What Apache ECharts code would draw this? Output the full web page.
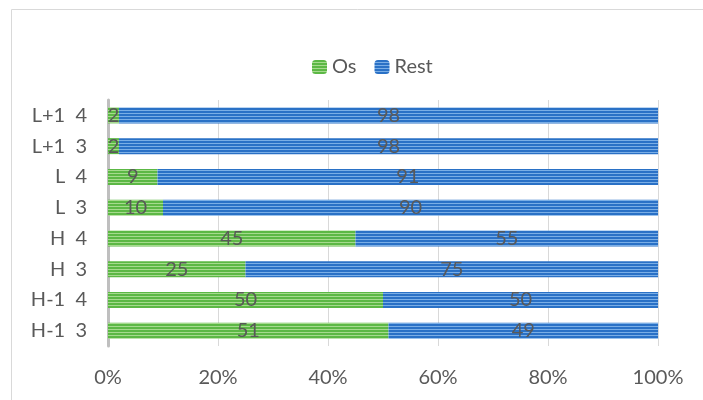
<!DOCTYPE html>
<html>
<head>
<meta charset="utf-8">
<script src="https://cdn.jsdelivr.net/npm/echarts@6/dist/echarts.min.js"></script>
<style>html,body{margin:0;padding:0;background:#fff;}#c{width:703px;height:400px;}</style>
</head>
<body>
<div id="c"></div>
<script>
const categories = ['H-1  3', 'H-1  4', 'H  3', 'H  4', 'L  3', 'L  4', 'L+1  3', 'L+1  4'];
const osValues = [51, 50, 25, 45, 10, 9, 2, 2];
const restValues = [49, 50, 75, 55, 90, 91, 98, 98];
const xTicks = ['0%', '20%', '40%', '60%', '80%', '100%'];

function stripe(dark, light) {
  const c = document.createElement('canvas');
  c.width = 4; c.height = 3;
  const g = c.getContext('2d');
  g.fillStyle = dark; g.fillRect(0, 0, 4, 2);
  g.fillStyle = light; g.fillRect(0, 2, 4, 1);
  return { image: c, repeat: 'repeat' };
}
const greenPat = stripe('#5cb845', '#a6da8e');
const bluePat = stripe('#2a71c6', '#7aaee6');

const chart = echarts.init(document.getElementById('c'));
const font = 'Lato, "Open Sans", sans-serif';
const labelStyle = { show: true, position: 'inside', color: '#595959', fontSize: 20, fontFamily: font };
chart.setOption({
  animation: false,
  textStyle: { fontFamily: font },
  graphic: [{
    type: 'rect', shape: { x: 11.5, y: 9.5, width: 720, height: 420 },
    style: { fill: 'none', stroke: '#d9d9d9', lineWidth: 1 }, silent: true, z: -1
  }],
  legend: {
    top: 52, left: 307, itemWidth: 15, itemHeight: 14, itemGap: 18,
    textStyle: { fontSize: 20, color: '#595959', fontFamily: font },
    data: ['Os', 'Rest']
  },
  grid: { left: 108, right: 45, top: 100, bottom: 54 },
  xAxis: {
    type: 'value', min: 0, max: 100, interval: 20,
    axisLabel: { fontSize: 20, color: '#595959', fontFamily: font, margin: 22,
      formatter: v => xTicks[Math.round(v / 20)] },
    axisLine: { show: false }, axisTick: { show: false },
    splitLine: { lineStyle: { color: '#d9d9d9', width: 1 } }
  },
  yAxis: {
    type: 'category', data: categories,
    axisLine: { lineStyle: { color: '#bfbfbf', width: 3 } },
    axisTick: { show: false },
    axisLabel: { fontSize: 20, color: '#595959', fontFamily: font, margin: 21 }
  },
  series: [
    { name: 'Os', type: 'bar', stack: 't', data: osValues, barWidth: 16,
      itemStyle: { color: greenPat }, label: labelStyle },
    { name: 'Rest', type: 'bar', stack: 't', data: restValues, barWidth: 16,
      itemStyle: { color: bluePat }, label: labelStyle }
  ]
});
</script>
</body>
</html>
